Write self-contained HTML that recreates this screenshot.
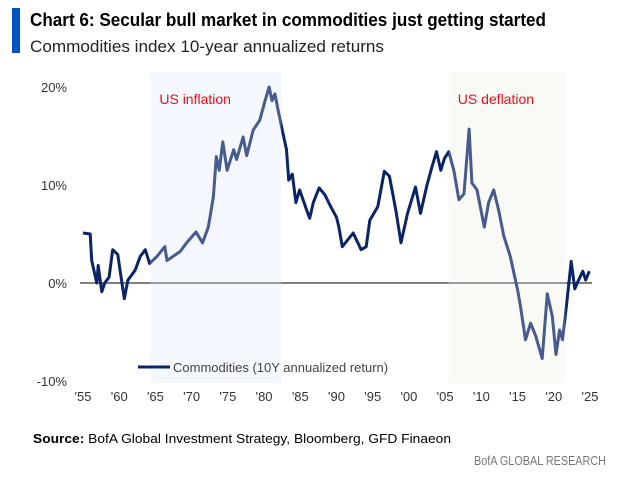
<!DOCTYPE html>
<html><head><meta charset="utf-8"><style>
html,body{margin:0;padding:0;background:#fff}
svg{display:block;font-family:"Liberation Sans",sans-serif}
</style></head><body>
<svg id="c" width="638" height="478" viewBox="0 0 638 478">
<rect x="12" y="8" width="8" height="45" fill="#0052c2"/>
<text x="30" y="26" font-size="18" font-weight="bold" fill="#000" textLength="516" lengthAdjust="spacingAndGlyphs">Chart 6: Secular bull market in commodities just getting started</text>
<text x="30" y="52" font-size="17" fill="#222" textLength="354" lengthAdjust="spacingAndGlyphs">Commodities index 10-year annualized returns</text>
<g id="plot"></g>
<text x="33" y="443" font-size="13" fill="#000" textLength="418" lengthAdjust="spacingAndGlyphs"><tspan font-weight="bold">Source:</tspan> BofA Global Investment Strategy, Bloomberg, GFD Finaeon</text>
<text x="606" y="465" font-size="13" fill="#777" text-anchor="end" textLength="132" lengthAdjust="spacingAndGlyphs">BofA GLOBAL RESEARCH</text>
</svg>
<script>
const years=[1955,1956,1956.2,1956.9,1957.1,1957.6,1958,1958.6,1959.1,1959.8,1960.1,1960.7,1961.2,1962.2,1962.9,1963.6,1964.2,1965.2,1966.3,1966.6,1968.4,1969.3,1970.6,1971.5,1972.3,1973,1973.4,1973.8,1974.3,1974.9,1975.8,1976.2,1977.1,1977.6,1978.5,1979.4,1980.1,1980.7,1981.1,1981.5,1981.9,1982.6,1983.1,1983.4,1983.9,1984.4,1984.9,1985.9,1986.3,1986.8,1987.6,1988.4,1989.2,1990,1990.3,1990.8,1992.3,1993.4,1994.1,1994.6,1995.7,1996.6,1997.3,1998.2,1998.9,1999.8,2000.9,2001.6,2002.5,2003.2,2003.8,2004.4,2004.9,2005.5,2006.2,2006.9,2007.6,2008.3,2008.7,2009.4,2010.4,2011,2011.7,2012.4,2013.1,2014,2015,2015.4,2016.1,2016.8,2017.5,2018.4,2019.1,2019.8,2020.3,2020.8,2021.2,2021.8,2022.4,2022.9,2023.3,2024,2024.4,2024.9];
const returns=[5.1,5.0,2.3,0,1.8,-0.9,0,0.6,3.4,2.9,1.4,-1.6,0.3,1.3,2.7,3.4,2.0,2.7,3.7,2.3,3.2,4.1,5.2,4.1,5.7,8.8,12.9,11.5,14.4,11.5,13.6,12.6,14.9,13.0,15.6,16.6,18.5,20,18.6,19.3,17.8,15.3,13.6,10.5,11.1,8.2,9.5,7.4,6.6,8.2,9.7,9.0,7.8,6.7,5.8,3.7,5.1,3.4,3.7,6.4,7.8,11.4,10.9,7.4,4.1,7.1,9.8,7.1,10.0,11.9,13.4,11.5,12.7,13.4,11.5,8.5,9.1,15.7,10.2,9.5,5.7,8.2,9.5,7.4,4.8,2.7,-0.7,-2.4,-5.8,-4.1,-5.4,-7.7,-1.1,-3.4,-7.3,-4.8,-5.8,-2.0,2.2,-0.6,0.1,1.2,0.3,1.2];
const yTicks=[20,10,0,-10];
const yTickLabels=['20%','10%','0%','-10%'];
const xTicks=[1955,1960,1965,1970,1975,1980,1985,1990,1995,2000,2005,2010,2015,2020,2025];
const xTickLabels=["'55","'60","'65","'70","'75","'80","'85","'90","'95","'00","'05","'10","'15","'20","'25"];
const shadeRanges=[[1964.3,1982.4],[2005.5,2021.6]];
const shadeLabels=['US inflation','US deflation'];
const X=y=>83+(y-1955)*7.243;
const Y=v=>283-v*9.8;
const NS='http://www.w3.org/2000/svg';
const g=document.getElementById('plot');
function mk(t,a,p){const e=document.createElementNS(NS,t);for(const k in a)e.setAttribute(k,a[k]);(p||g).appendChild(e);return e;}
yTicks.forEach((v,i)=>{const t=mk('text',{x:67,y:Y(v)+5,'font-size':13,fill:'#333','text-anchor':'end'});t.textContent=yTickLabels[i];

});
xTicks.forEach((v,i)=>{const t=mk('text',{x:X(v),y:401,'font-size':13,fill:'#333','text-anchor':'middle'});t.textContent=xTickLabels[i];

});
const z=mk('line',{x1:80,x2:592,y1:Y(0),y2:Y(0),stroke:'#333','stroke-width':1.2});


const pts=years.map((y,i)=>X(y).toFixed(1)+','+Y(returns[i]).toFixed(1)).join(' ');
const pl=mk('polyline',{points:pts,fill:'none',stroke:'#0b2468','stroke-width':3,'stroke-linejoin':'round'});


const fills=['rgba(225,233,248,0.45)','rgba(238,238,228,0.45)'];
const fills2=['rgba(240,245,253,1)','rgba(247,247,243,1)'];
shadeRanges.forEach((r,i)=>{
 const b=mk('rect',{x:X(r[0]),y:72,width:X(r[1])-X(r[0]),height:311,fill:fills2[i]});
 g.insertBefore(b,g.firstChild);
 
 
 const o=mk('rect',{x:X(r[0]),y:72,width:X(r[1])-X(r[0]),height:311,fill:'rgba(255,255,255,0.25)'});
 
 
 const t=mk('text',{x:X(r[0])+9,y:104,'font-size':14,fill:'#e8101a'});t.textContent=shadeLabels[i];
 
 
});
const ll=mk('line',{x1:138,x2:170,y1:367,y2:367,stroke:'#0b2468','stroke-width':3});


const lt=mk('text',{x:173,y:372,'font-size':13,fill:'#444'});lt.textContent='Commodities (10Y annualized return)';


</script>
</body></html>
